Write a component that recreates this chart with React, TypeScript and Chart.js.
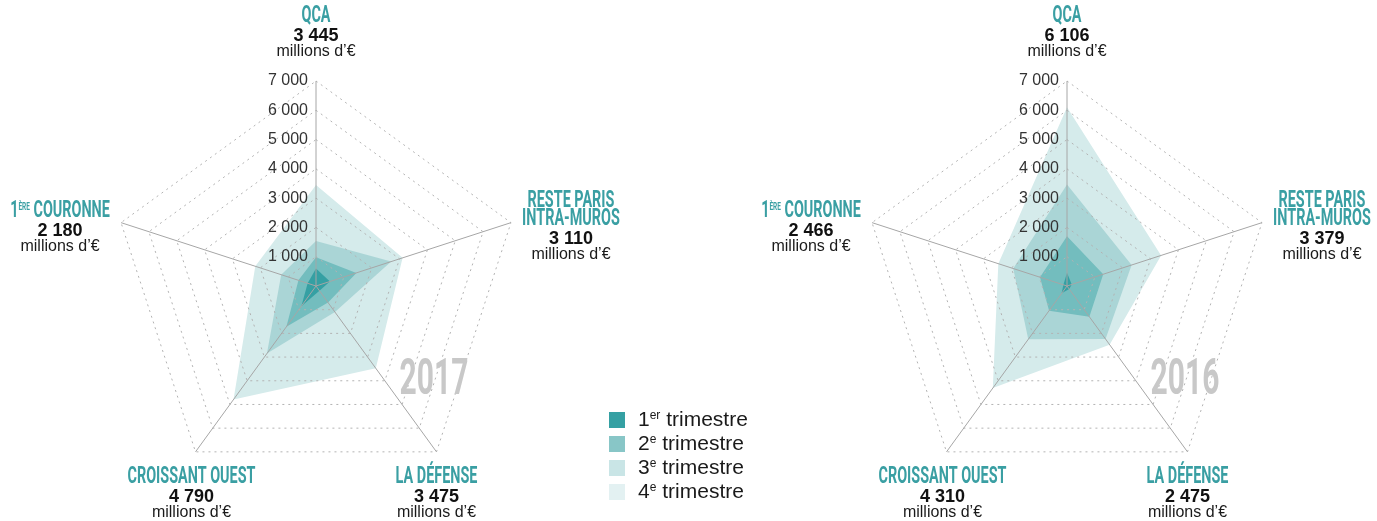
import React, { useEffect, useRef } from "react";
import { Chart, registerables } from "chart.js";

Chart.register(...registerables);

// ---------- DATA ----------
const regions = ["QCA", "Reste Paris intra-muros", "La Défense", "Croissant Ouest", "1ère Couronne"];
const regionTitleLines = [["QCA"], ["RESTE PARIS", "INTRA-MUROS"], ["LA DÉFENSE"], ["CROISSANT OUEST"], ["1ÈRE COURONNE"]];
const seriesLabels = ["1er trimestre", "2e trimestre", "3e trimestre", "4e trimestre"];
const legendNumbers = ["1", "2", "3", "4"];
const legendSuffixes = ["er", "e", "e", "e"];
const legendWord = "trimestre";
const unitLabel = "millions d’€";
const tickValues = [1000, 2000, 3000, 4000, 5000, 6000, 7000];
const tickLabels = ["1 000", "2 000", "3 000", "4 000", "5 000", "6 000", "7 000"];

// 2017 (cumulative by quarter)
const totals2017 = [3445, 3110, 3475, 4790, 2180];
const q1_2017 = [600, 500, 200, 850, 300];
const q2_2017 = [980, 1450, 700, 1720, 630];
const q3_2017 = [1540, 2700, 1100, 2850, 1250];
const q4_2017 = [3445, 3110, 3475, 4790, 2180];

// 2016 (cumulative by quarter)
const totals2016 = [6106, 3379, 2475, 4310, 2466];
const q1_2016 = [450, 170, 130, 310, 130];
const q2_2016 = [1700, 1300, 1300, 1040, 970];
const q3_2016 = [3470, 2320, 2240, 2250, 1930];
const q4_2016 = [6106, 3379, 2475, 4310, 2466];

// ---------- STYLES ----------
const fillColors = ["#35a0a3", "#73bdbe", "#aad5d6", "#d5ebeb"];
const legendColors = ["#35a0a3", "#88c6c7", "#c9e5e6", "#e3f1f2"];
const TEAL = "#3a9fa3";
const SX = 0.6;
const CANVAS_W = 626;
const CANVAS_H = 521;

// offsets of label blocks relative to axis end points
const labelOffsets = [
  { dx: 0, dy: -59 },
  { dx: 60, dy: -16 },
  { dx: 0, dy: 31 },
  { dx: -4, dy: 31 },
  { dx: -61, dy: -6 },
];

function fmt(n: number): string {
  return String(n).replace(/\B(?=(\d{3})+(?!\d))/g, " ");
}

function drawCondensed(ctx: CanvasRenderingContext2D, text: string, cx: number, baseline: number, size: number, color: string) {
  const m = text.match(/^(\d)(ÈRE)(.*)$/);
  const parts: { t: string; s: number; rise: number; w?: number }[] = m
    ? [
        { t: m[1], s: size, rise: 0 },
        { t: m[2], s: size * 0.45, rise: size * 0.711 - size * 0.45 * 0.93 },
        { t: m[3], s: size, rise: 0 },
      ]
    : [{ t: text, s: size, rise: 0 }];
  ctx.save();
  ctx.fillStyle = color;
  ctx.textAlign = "left";
  ctx.textBaseline = "alphabetic";
  let total = 0;
  parts.forEach((p) => {
    ctx.font = `bold ${p.s}px Roboto, "DejaVu Sans", sans-serif`;
    p.w = ctx.measureText(p.t).width * SX;
    total += p.w;
  });
  let x = cx - total / 2;
  parts.forEach((p) => {
    ctx.font = `bold ${p.s}px Roboto, "DejaVu Sans", sans-serif`;
    ctx.save();
    ctx.translate(x, baseline - p.rise);
    ctx.scale(SX, 1);
    ctx.fillText(p.t, 0, 0);
    ctx.restore();
    x += p.w || 0;
  });
  ctx.restore();
}

function makeOverlay(year: string, totals: number[]) {
  return {
    id: "overlay" + year,
    afterDraw(chart: any) {
      const scale = chart.scales.r;
      const ctx: CanvasRenderingContext2D = chart.ctx;
      const cx = scale.xCenter;
      const cy = scale.yCenter;
      ctx.save();
      // tick labels
      ctx.font = '16px "Liberation Sans", Arial, sans-serif';
      ctx.fillStyle = "#333333";
      ctx.textAlign = "right";
      ctx.textBaseline = "middle";
      tickValues.forEach((v, i) => {
        const d = scale.getDistanceFromCenterForValue(v);
        ctx.fillText(tickLabels[i], cx - 8, cy - d);
      });
      // region labels
      regionTitleLines.forEach((lines, i) => {
        const end = scale.getPointPosition(i, scale.drawingArea);
        const x = end.x + labelOffsets[i].dx;
        let y = end.y + labelOffsets[i].dy;
        lines.forEach((line, k) => {
          if (k > 0) y += 18;
          drawCondensed(ctx, line, x, y, 24, TEAL);
        });
        y += 19;
        ctx.textAlign = "center";
        ctx.textBaseline = "alphabetic";
        ctx.fillStyle = "#111111";
        ctx.font = 'bold 18px "Liberation Sans", Arial, sans-serif';
        ctx.fillText(fmt(totals[i]), x, y);
        y += 15;
        ctx.font = '16px "Liberation Sans", Arial, sans-serif';
        ctx.fillStyle = "#1a1a1a";
        ctx.fillText(unitLabel, x, y);
      });
      // year watermark
      drawCondensed(ctx, year, cx + 118, cy + 108, 50, "#c8c8c8");
      ctx.restore();
    },
  };
}

function RadarPanel(props: { year: string; series: number[][]; totals: number[]; left: number }) {
  const ref = useRef<HTMLCanvasElement>(null);
  useEffect(() => {
    const canvas = ref.current;
    if (!canvas) return;
    const chart = new Chart(canvas, {
      type: "radar",
      data: {
        labels: regions,
        datasets: props.series.map((d, i) => ({
          label: seriesLabels[i],
          data: d,
          backgroundColor: fillColors[i],
          borderWidth: 0,
          borderColor: "rgba(0,0,0,0)",
          pointRadius: 0,
          pointHoverRadius: 0,
          fill: true,
        })),
      },
      options: {
        responsive: false,
        animation: false,
        layout: { padding: { top: 81, bottom: 30, left: 111, right: 105 } },
        plugins: { legend: { display: false }, tooltip: { enabled: false } },
        scales: {
          r: {
            min: 0,
            max: 7000,
            ticks: { stepSize: 1000, display: false },
            pointLabels: { display: false },
            grid: { color: "#b3b3b3", lineWidth: 1, z: 1 } as any,
            border: { dash: [2, 4] } as any,
            angleLines: { color: "#a6a6a6", lineWidth: 1 },
          },
        },
      } as any,
      plugins: [makeOverlay(props.year, props.totals)],
    });
    return () => chart.destroy();
  }, []);
  return (
    <canvas
      ref={ref}
      width={CANVAS_W}
      height={CANVAS_H}
      style={{ position: "absolute", left: props.left, top: 0, width: CANVAS_W, height: CANVAS_H }}
    />
  );
}

export default function App() {
  return (
    <div style={{ position: "absolute", left: 0, top: 0, width: 1377, height: 521, overflow: "hidden", background: "#fff" }}>
      <RadarPanel year="2017" series={[q1_2017, q2_2017, q3_2017, q4_2017]} totals={totals2017} left={0} />
      <RadarPanel year="2016" series={[q1_2016, q2_2016, q3_2016, q4_2016]} totals={totals2016} left={751} />
      <div
        style={{
          position: "absolute",
          left: 609,
          top: 408,
          zIndex: 2,
          fontFamily: '"Liberation Sans", Arial, sans-serif',
          fontSize: 21,
          color: "#1a1a1a",
        }}
      >
        {legendNumbers.map((n, i) => (
          <div key={i} style={{ display: "flex", alignItems: "center", height: 24 }}>
            <div style={{ width: 16, height: 16, background: legendColors[i], marginRight: 13 }} />
            <span style={{ lineHeight: "24px", whiteSpace: "nowrap" }}>
              {n}
              <span style={{ fontSize: 12, position: "relative", top: -7 }}>{legendSuffixes[i]}</span> {legendWord}
            </span>
          </div>
        ))}
      </div>
    </div>
  );
}
